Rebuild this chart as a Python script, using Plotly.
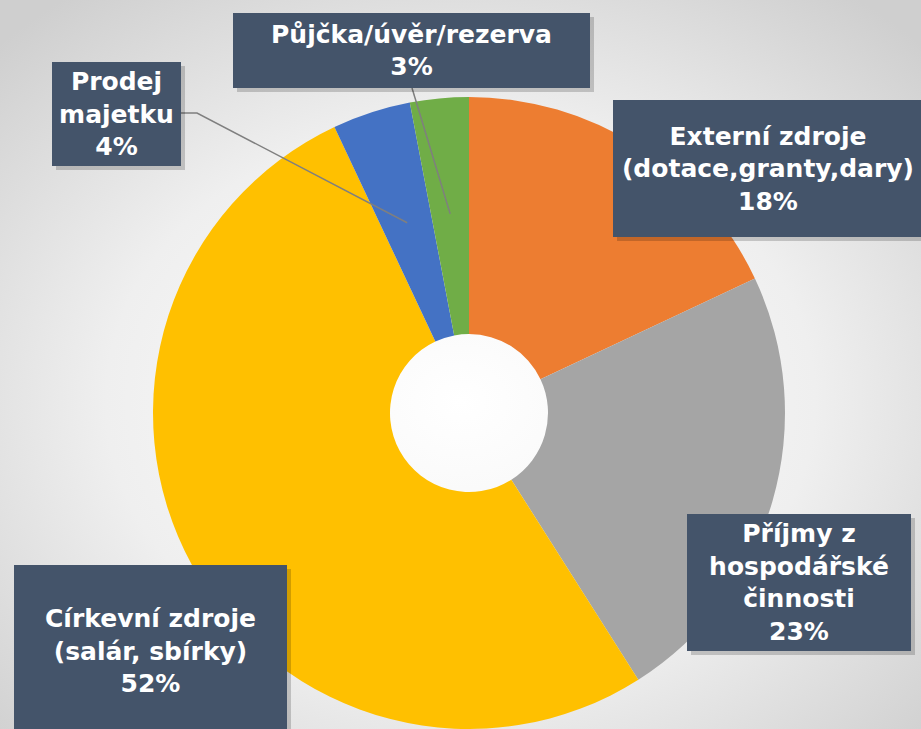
import base64
import math
import plotly.graph_objects as go

# data
labels = ["Externí zdroje<br>(dotace,granty,dary)", "Příjmy z<br>hospodářské<br>činnosti",
          "Církevní zdroje<br>(salár, sbírky)", "Prodej<br>majetku", "Půjčka/úvěr/rezerva"]
values = [18, 23, 52, 4, 3]
colors = ["#ED7D31", "#A5A5A5", "#FFC000", "#4472C4", "#70AD47"]

W, H = 921, 729
cx, cy, R = 469, 413, 316   # pie centre / radius in px


def px(x):
    return x / W


def py(y):
    return 1 - y / H


# background gradient as svg
svg = ('<svg xmlns="http://www.w3.org/2000/svg" width="921" height="729">'
       '<defs><radialGradient id="g" cx="50%" cy="55%" r="70%">'
       '<stop offset="0%" stop-color="#ffffff"/><stop offset="55%" stop-color="#efefef"/>'
       '<stop offset="100%" stop-color="#cfcfcf"/></radialGradient></defs>'
       '<rect width="921" height="729" fill="url(#g)"/></svg>')
bg = "data:image/svg+xml;base64," + base64.b64encode(svg.encode()).decode()

fig = go.Figure(go.Pie(
    labels=labels, values=values, sort=False, direction="clockwise", rotation=0,
    hole=0.25, textinfo="none", marker=dict(colors=colors, line=dict(width=0)),
    domain=dict(x=[px(cx - R), px(cx + R)], y=[py(cy + R), py(cy - R)]),
    showlegend=False,
))


def slice_point(i, r):
    tot = sum(values)
    frac = (sum(values[:i]) + values[i] / 2) / tot
    th = 2 * math.pi * frac
    return cx + r * math.sin(th), cy - r * math.cos(th)


# boxes: (index, centre x, centre y, width, height)
boxes = [(0, 768, 168.5, 310, 137), (1, 799, 582.5, 224, 137), (2, 150.5, 651, 273, 172),
         (3, 116.5, 114, 129, 104), (4, 411.5, 50.5, 357, 75)]

shapes = []
bx, by = slice_point(3, 200)
shapes.append(dict(type="path", xref="paper", yref="paper",
                   path=f"M {px(bx)} {py(by)} L {px(197)} {py(113)} L {px(181)} {py(113)}",
                   line=dict(color="#7f7f7f", width=1.5)))
gx, gy = slice_point(4, 200)
shapes.append(dict(type="line", xref="paper", yref="paper", x0=px(gx), y0=py(gy), x1=px(412), y1=py(88),
                   line=dict(color="#7f7f7f", width=1.5)))

annotations = []
for i, x, y, w, h in boxes:
    annotations.append(dict(x=px(x + 4), y=py(y + 4), xref="paper", yref="paper", text="",
                            xanchor="center", yanchor="middle",
                            showarrow=False, width=w, height=h, bgcolor="rgba(0,0,0,0.18)",
                            borderpad=0, borderwidth=0))
    annotations.append(dict(x=px(x), y=py(y), xref="paper", yref="paper",
                            xanchor="center", yanchor="middle",
                            text=f"<b>{labels[i]}<br>{values[i]}%</b>", showarrow=False,
                            width=w, height=h, bgcolor="#44546A", borderpad=0, borderwidth=0,
                            align="center", valign="middle",
                            font=dict(family="DejaVu Sans", size=25, color="white")))

fig.update_layout(
    width=W, height=H, margin=dict(l=0, r=0, t=0, b=0),
    paper_bgcolor="#e6e6e6", plot_bgcolor="rgba(0,0,0,0)",
    images=[dict(source=bg, xref="paper", yref="paper", x=0, y=1, sizex=1, sizey=1,
                 xanchor="left", yanchor="top", sizing="stretch", layer="below")],
    shapes=shapes, annotations=annotations,
)

fig.write_html("out.html", config={"displayModeBar": False},
               post_script="document.body.style.margin='0';")
